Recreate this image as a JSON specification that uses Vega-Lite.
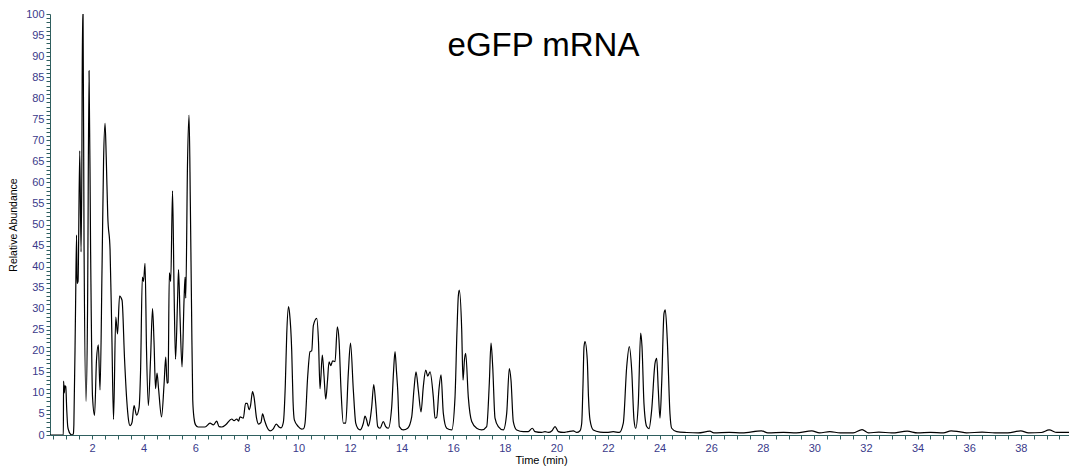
{
  "$schema": "https://vega.github.io/schema/vega-lite/v6.json",
  "width": 1019,
  "height": 421,
  "autosize": {"type": "none"},
  "padding": {"left": 50, "top": 14, "right": 0, "bottom": 34},
  "background": "white",
  "title": {"text": "eGFP mRNA", "anchor": "middle", "frame": "group", "fontSize": 33, "font": "Liberation Sans", "fontWeight": "normal", "color": "black", "baseline": "alphabetic", "offset": 0, "dy": 81, "dx": -16},
  "config": {"view": {"stroke": null}},
  "data": {"values": [
    {"t": 0.372, "v": 0}, {"t": 0.888, "v": 0}, {"t": 0.895, "v": 12.8}, {"t": 0.926, "v": 10}, {"t": 0.946, "v": 11.7}, {"t": 0.981, "v": 11.5},
    {"t": 1.019, "v": 6}, {"t": 1.058, "v": 2}, {"t": 1.097, "v": 1}, {"t": 1.147, "v": 0.3}, {"t": 1.225, "v": 0}, {"t": 1.275, "v": 0.3},
    {"t": 1.295, "v": 2.4}, {"t": 1.36, "v": 30}, {"t": 1.399, "v": 47.5}, {"t": 1.419, "v": 36}, {"t": 1.457, "v": 36.5}, {"t": 1.523, "v": 67.5},
    {"t": 1.574, "v": 43.5}, {"t": 1.601, "v": 60}, {"t": 1.632, "v": 100}, {"t": 1.651, "v": 100}, {"t": 1.69, "v": 45}, {"t": 1.767, "v": 8},
    {"t": 1.826, "v": 30}, {"t": 1.884, "v": 86.5}, {"t": 1.942, "v": 45}, {"t": 2.019, "v": 9}, {"t": 2.097, "v": 4.7}, {"t": 2.174, "v": 18},
    {"t": 2.244, "v": 21.4}, {"t": 2.31, "v": 10.7}, {"t": 2.388, "v": 40}, {"t": 2.446, "v": 65}, {"t": 2.504, "v": 74}, {"t": 2.55, "v": 66},
    {"t": 2.609, "v": 52}, {"t": 2.698, "v": 44}, {"t": 2.764, "v": 25}, {"t": 2.833, "v": 3.7}, {"t": 2.919, "v": 28}, {"t": 2.988, "v": 24},
    {"t": 3.066, "v": 33}, {"t": 3.163, "v": 32}, {"t": 3.26, "v": 18}, {"t": 3.345, "v": 8.3}, {"t": 3.415, "v": 3.5}, {"t": 3.473, "v": 2.2},
    {"t": 3.55, "v": 3}, {"t": 3.628, "v": 7}, {"t": 3.725, "v": 4.7}, {"t": 3.822, "v": 6.5}, {"t": 3.88, "v": 15}, {"t": 3.95, "v": 37.5},
    {"t": 3.996, "v": 36.5}, {"t": 4.054, "v": 40.8}, {"t": 4.112, "v": 20}, {"t": 4.182, "v": 7}, {"t": 4.267, "v": 18}, {"t": 4.345, "v": 30},
    {"t": 4.403, "v": 22}, {"t": 4.461, "v": 11}, {"t": 4.519, "v": 14.7}, {"t": 4.578, "v": 11}, {"t": 4.694, "v": 4.3}, {"t": 4.791, "v": 12},
    {"t": 4.857, "v": 18.5}, {"t": 4.907, "v": 12.3}, {"t": 4.946, "v": 12.5}, {"t": 4.996, "v": 38.5}, {"t": 5.05, "v": 36.5}, {"t": 5.12, "v": 58},
    {"t": 5.178, "v": 35}, {"t": 5.236, "v": 18}, {"t": 5.314, "v": 32}, {"t": 5.353, "v": 39.3}, {"t": 5.411, "v": 28}, {"t": 5.488, "v": 16.2},
    {"t": 5.566, "v": 32}, {"t": 5.605, "v": 37.5}, {"t": 5.632, "v": 32.5}, {"t": 5.702, "v": 65}, {"t": 5.76, "v": 76}, {"t": 5.81, "v": 55},
    {"t": 5.857, "v": 30}, {"t": 5.903, "v": 8.3}, {"t": 5.953, "v": 4}, {"t": 6.012, "v": 2.4}, {"t": 6.109, "v": 1.9}, {"t": 6.38, "v": 1.9},
    {"t": 6.574, "v": 2.8}, {"t": 6.702, "v": 2.4}, {"t": 6.833, "v": 3.3}, {"t": 6.922, "v": 2}, {"t": 7.027, "v": 1.9}, {"t": 7.194, "v": 2.5},
    {"t": 7.415, "v": 3.8}, {"t": 7.504, "v": 3.4}, {"t": 7.609, "v": 3.8}, {"t": 7.678, "v": 3.3}, {"t": 7.736, "v": 4.3}, {"t": 7.864, "v": 4},
    {"t": 7.95, "v": 7.5}, {"t": 8.019, "v": 7.5}, {"t": 8.085, "v": 6}, {"t": 8.143, "v": 7}, {"t": 8.221, "v": 10.3}, {"t": 8.279, "v": 9},
    {"t": 8.376, "v": 4}, {"t": 8.453, "v": 2.6}, {"t": 8.55, "v": 3}, {"t": 8.609, "v": 5}, {"t": 8.686, "v": 3.5}, {"t": 8.771, "v": 2},
    {"t": 8.899, "v": 1}, {"t": 9.016, "v": 1.4}, {"t": 9.143, "v": 2.6}, {"t": 9.248, "v": 1.9}, {"t": 9.326, "v": 1.7}, {"t": 9.415, "v": 3},
    {"t": 9.492, "v": 12}, {"t": 9.547, "v": 24}, {"t": 9.616, "v": 30.5}, {"t": 9.655, "v": 29}, {"t": 9.74, "v": 20}, {"t": 9.791, "v": 8},
    {"t": 9.841, "v": 3.6}, {"t": 9.996, "v": 2}, {"t": 10.128, "v": 1.4}, {"t": 10.198, "v": 1.5}, {"t": 10.256, "v": 2.8}, {"t": 10.36, "v": 14},
    {"t": 10.45, "v": 19.8}, {"t": 10.516, "v": 20}, {"t": 10.578, "v": 26}, {"t": 10.709, "v": 27.7}, {"t": 10.779, "v": 22}, {"t": 10.837, "v": 11},
    {"t": 10.926, "v": 19}, {"t": 10.992, "v": 14}, {"t": 11.058, "v": 8.5}, {"t": 11.128, "v": 13}, {"t": 11.186, "v": 17.4}, {"t": 11.252, "v": 16.5},
    {"t": 11.329, "v": 17.6}, {"t": 11.419, "v": 17.4}, {"t": 11.508, "v": 25.7}, {"t": 11.574, "v": 22.5}, {"t": 11.651, "v": 10.7}, {"t": 11.74, "v": 2.8},
    {"t": 11.833, "v": 2.8}, {"t": 11.934, "v": 14.7}, {"t": 12.019, "v": 21.8}, {"t": 12.128, "v": 10.7}, {"t": 12.221, "v": 2.8}, {"t": 12.31, "v": 1.5},
    {"t": 12.388, "v": 1.2}, {"t": 12.516, "v": 2.8}, {"t": 12.581, "v": 4.5}, {"t": 12.647, "v": 3.5}, {"t": 12.709, "v": 2.1}, {"t": 12.775, "v": 3.5},
    {"t": 12.841, "v": 6.7}, {"t": 12.919, "v": 12}, {"t": 12.996, "v": 7.5}, {"t": 13.074, "v": 2}, {"t": 13.163, "v": 1.6}, {"t": 13.291, "v": 3.2},
    {"t": 13.384, "v": 2}, {"t": 13.484, "v": 1.6}, {"t": 13.616, "v": 6.7}, {"t": 13.686, "v": 15}, {"t": 13.744, "v": 19.8}, {"t": 13.802, "v": 15},
    {"t": 13.849, "v": 10.7}, {"t": 13.911, "v": 2}, {"t": 14.066, "v": 1.2}, {"t": 14.236, "v": 1.6}, {"t": 14.391, "v": 4.3}, {"t": 14.481, "v": 11},
    {"t": 14.558, "v": 15}, {"t": 14.647, "v": 10.7}, {"t": 14.752, "v": 5.5}, {"t": 14.841, "v": 11.5}, {"t": 14.934, "v": 15.4}, {"t": 15.012, "v": 14},
    {"t": 15.101, "v": 15}, {"t": 15.229, "v": 9}, {"t": 15.295, "v": 4}, {"t": 15.36, "v": 4.2}, {"t": 15.45, "v": 11}, {"t": 15.527, "v": 14.3},
    {"t": 15.616, "v": 5.2}, {"t": 15.748, "v": 1.6}, {"t": 15.942, "v": 1.2}, {"t": 16.07, "v": 9}, {"t": 16.147, "v": 25}, {"t": 16.198, "v": 33},
    {"t": 16.236, "v": 34.4}, {"t": 16.329, "v": 25}, {"t": 16.38, "v": 13}, {"t": 16.438, "v": 18}, {"t": 16.484, "v": 19.4}, {"t": 16.585, "v": 9},
    {"t": 16.717, "v": 3.2}, {"t": 16.911, "v": 1.6}, {"t": 17.105, "v": 1.2}, {"t": 17.298, "v": 2}, {"t": 17.399, "v": 12.3}, {"t": 17.465, "v": 21.8},
    {"t": 17.531, "v": 16.2}, {"t": 17.62, "v": 4}, {"t": 17.748, "v": 2}, {"t": 17.942, "v": 1.2}, {"t": 18.074, "v": 5.2}, {"t": 18.174, "v": 15.8},
    {"t": 18.24, "v": 13}, {"t": 18.329, "v": 3.2}, {"t": 18.461, "v": 1.2}, {"t": 18.717, "v": 0.8}, {"t": 18.911, "v": 0.8}, {"t": 19.066, "v": 1.6},
    {"t": 19.171, "v": 0.8}, {"t": 19.43, "v": 0.6}, {"t": 19.558, "v": 0.8}, {"t": 19.686, "v": 0.6}, {"t": 19.829, "v": 1}, {"t": 19.946, "v": 2},
    {"t": 20.074, "v": 0.8}, {"t": 20.267, "v": 0.6}, {"t": 20.45, "v": 0.8}, {"t": 20.655, "v": 1}, {"t": 20.787, "v": 0.6}, {"t": 20.915, "v": 1},
    {"t": 20.981, "v": 2.8}, {"t": 21.031, "v": 12}, {"t": 21.07, "v": 21}, {"t": 21.109, "v": 22.2}, {"t": 21.198, "v": 17.7}, {"t": 21.244, "v": 9},
    {"t": 21.302, "v": 3.6}, {"t": 21.43, "v": 1.2}, {"t": 21.69, "v": 0.7}, {"t": 21.95, "v": 0.6}, {"t": 22.205, "v": 0.8}, {"t": 22.438, "v": 0.6},
    {"t": 22.593, "v": 2.8}, {"t": 22.725, "v": 16.2}, {"t": 22.826, "v": 21}, {"t": 22.919, "v": 15.4}, {"t": 23.008, "v": 3.6}, {"t": 23.074, "v": 1.6},
    {"t": 23.174, "v": 7.5}, {"t": 23.267, "v": 24.2}, {"t": 23.318, "v": 21}, {"t": 23.395, "v": 7.4}, {"t": 23.5, "v": 2}, {"t": 23.589, "v": 1.5},
    {"t": 23.694, "v": 6}, {"t": 23.822, "v": 17}, {"t": 23.888, "v": 18.2}, {"t": 23.95, "v": 10.7}, {"t": 24.016, "v": 4}, {"t": 24.081, "v": 12.3},
    {"t": 24.171, "v": 28.9}, {"t": 24.221, "v": 29.7}, {"t": 24.298, "v": 22.6}, {"t": 24.403, "v": 5}, {"t": 24.469, "v": 1.6}, {"t": 24.663, "v": 0.8},
    {"t": 25.05, "v": 0.6}, {"t": 25.5, "v": 0.5}, {"t": 25.95, "v": 0.9}, {"t": 26.1, "v": 0.5}, {"t": 26.7, "v": 0.6}, {"t": 27.2, "v": 0.5},
    {"t": 27.95, "v": 1.0}, {"t": 28.2, "v": 0.5}, {"t": 28.8, "v": 0.6}, {"t": 29.3, "v": 0.5}, {"t": 29.9, "v": 1.0}, {"t": 30.2, "v": 0.5},
    {"t": 30.6, "v": 0.8}, {"t": 31.0, "v": 0.5}, {"t": 31.5, "v": 0.5}, {"t": 31.85, "v": 1.3}, {"t": 32.1, "v": 0.5}, {"t": 32.5, "v": 0.7},
    {"t": 33.0, "v": 0.5}, {"t": 33.6, "v": 0.9}, {"t": 34.0, "v": 0.5}, {"t": 34.5, "v": 0.6}, {"t": 35.0, "v": 0.5}, {"t": 35.3, "v": 1.0},
    {"t": 35.6, "v": 0.8}, {"t": 35.9, "v": 0.5}, {"t": 36.5, "v": 0.7}, {"t": 37.0, "v": 0.5}, {"t": 37.5, "v": 0.5}, {"t": 38.0, "v": 1.0},
    {"t": 38.3, "v": 0.5}, {"t": 38.8, "v": 0.6}, {"t": 39.1, "v": 1.2}, {"t": 39.4, "v": 0.6}, {"t": 39.87, "v": 0.6}
  ]},
  "mark": {"type": "line", "color": "black", "strokeWidth": 1.2, "interpolate": "monotone", "clip": true},
  "encoding": {
    "x": {"field": "t", "type": "quantitative", "scale": {"domain": [0.37, 39.87], "nice": false, "zero": false},
      "axis": {"title": "Time (min)", "titleFont": "Liberation Sans", "titleFontSize": 11, "titleFontWeight": "normal", "titleColor": "black", "titlePadding": 1, "titleX": 491,
        "values": [0.5,1,1.5,2,2.5,3,3.5,4,4.5,5,5.5,6,6.5,7,7.5,8,8.5,9,9.5,10,10.5,11,11.5,12,12.5,13,13.5,14,14.5,15,15.5,16,16.5,17,17.5,18,18.5,19,19.5,20,20.5,21,21.5,22,22.5,23,23.5,24,24.5,25,25.5,26,26.5,27,27.5,28,28.5,29,29.5,30,30.5,31,31.5,32,32.5,33,33.5,34,34.5,35,35.5,36,36.5,37,37.5,38,38.5,39,39.5],
        "labelExpr": "datum.value % 2 === 0 ? ('' + datum.value) : ''", "labelOverlap": false, "labelFlush": false,
        "labelFont": "Liberation Sans", "labelFontSize": 11, "labelColor": "#3a3a8a", "labelPadding": 3,
        "domainColor": "#2f5f5f", "tickColor": "#2f5f5f", "tickSize": 4, "grid": false}},
    "y": {"field": "v", "type": "quantitative", "scale": {"domain": [0, 100], "nice": false},
      "axis": {"title": "Relative Abundance", "titleFont": "Liberation Sans", "titleFontSize": 10.5, "titleFontWeight": "normal", "titleColor": "black", "titlePadding": 7,
        "values": [0,1,2,3,4,5,6,7,8,9,10,11,12,13,14,15,16,17,18,19,20,21,22,23,24,25,26,27,28,29,30,31,32,33,34,35,36,37,38,39,40,41,42,43,44,45,46,47,48,49,50,51,52,53,54,55,56,57,58,59,60,61,62,63,64,65,66,67,68,69,70,71,72,73,74,75,76,77,78,79,80,81,82,83,84,85,86,87,88,89,90,91,92,93,94,95,96,97,98,99,100],
        "labelExpr": "datum.value % 5 === 0 ? ('' + datum.value) : ''", "labelOverlap": false, "labelFlush": false,
        "labelFont": "Liberation Sans", "labelFontSize": 11, "labelColor": "#3a3a8a", "labelPadding": 2,
        "domainColor": "#2f5f5f", "tickColor": "#2f5f5f", "tickSize": 4, "grid": false}}
  }
}
